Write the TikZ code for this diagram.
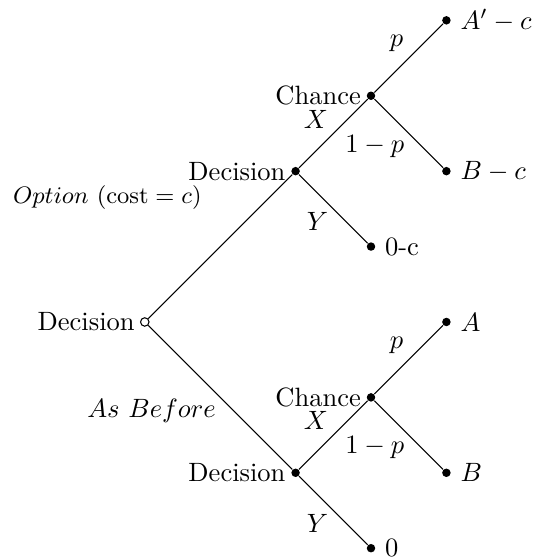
\documentclass[tikz,border=0pt]{standalone}
\usepackage{amsmath,amssymb}
\usepackage{tikz}
\usetikzlibrary{positioning}

\begin{document}
\begin{tikzpicture}[
  dot/.style={circle, fill, inner sep=0pt, minimum size=3.2pt},
  opendot/.style={circle, draw, fill=white, inner sep=0pt, minimum size=3.2pt},
  every label/.style={label distance=-1.5pt}]
  \useasboundingbox (-1.92,-3.13) rectangle (5.19,4.27);
  % decision and chance points
  \node[opendot, label={left:Decision}] (root) at (0,0) {};
  \node[dot, label={left:Decision}] (optdec) at (2,2) {};
  \node[dot, label={left:Decision}] (befdec) at (2,-2) {};
  \node[dot, label={left:Chance}] (optch) at (3,3) {};
  \node[dot, label={left:Chance}] (befch) at (3,-1) {};
  % outcomes
  \node[dot, label={[label distance=0pt]right:$A'-c$}] (optA) at (4,4) {};
  \node[dot, label={[label distance=0pt]right:$B-c$}] (optB) at (4,2) {};
  \node[dot, label={[label distance=0pt]right:0-c}] (optY) at (3,1) {};
  \node[dot, label={[label distance=0pt]right:$A$}] (befA) at (4,0) {};
  \node[dot, label={[label distance=0pt]right:$B$}] (befB) at (4,-2) {};
  \node[dot, label={[label distance=0pt]right:0}] (befY) at (3,-3) {};
  % branches
  \draw (root) -- (optdec);
  \draw (root) -- (befdec);
  \draw (optdec) -- (optch);
  \draw (optdec) -- (optY);
  \draw (optch) -- (optA);
  \draw (optch) -- (optB);
  \draw (befdec) -- (befch);
  \draw (befdec) -- (befY);
  \draw (befch) -- (befA);
  \draw (befch) -- (befB);
  % branch labels
  \node[anchor=west, font=\small] (optlbl) at (-1.87,1.65) {$Option\ (\mathrm{cost}=c)$};
  \node (beflbl) at (0.09,-1.18) {$As\ Before$};
  \node (optX) at (2.27,2.69) {$X$};
  \node (optYl) at (2.29,1.33) {$Y$};
  \node (optp) at (3.34,3.69) {$p$};
  \node (optq) at (3.05,2.33) {$1-p$};
  \node (befX) at (2.27,-1.31) {$X$};
  \node (befYl) at (2.29,-2.67) {$Y$};
  \node (befp) at (3.34,-0.31) {$p$};
  \node (befq) at (3.05,-1.67) {$1-p$};
\end{tikzpicture}
\end{document}
